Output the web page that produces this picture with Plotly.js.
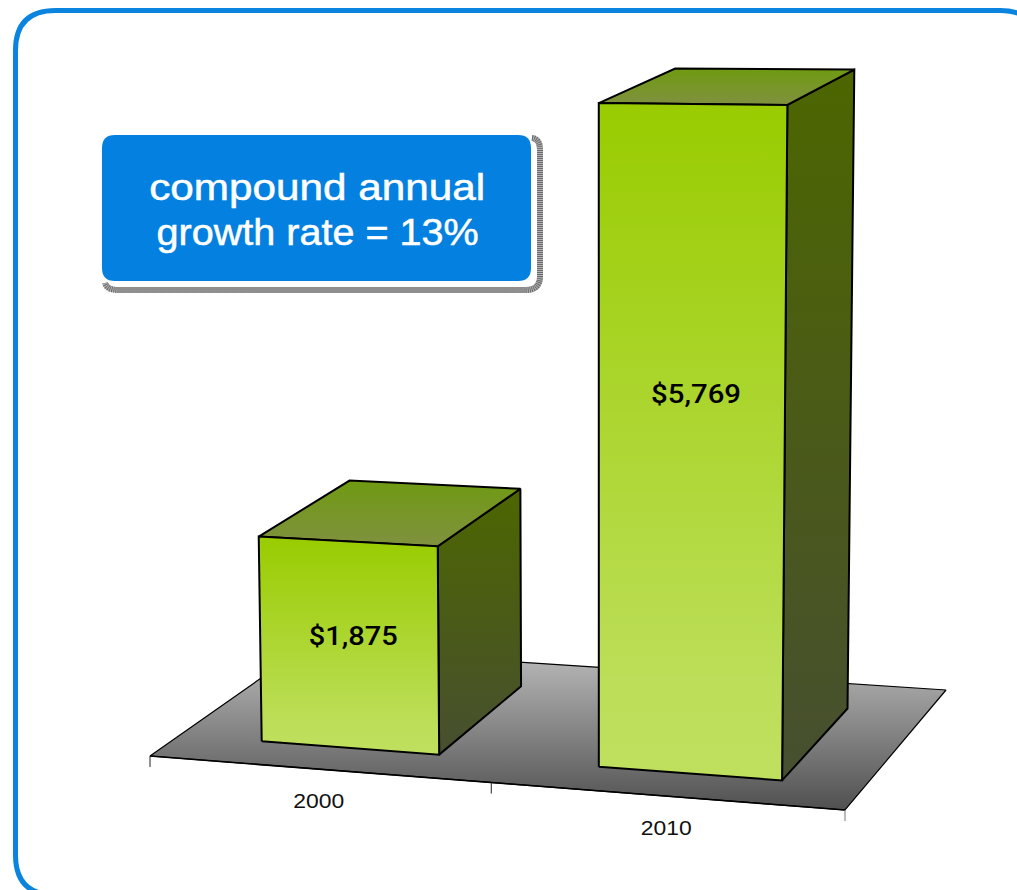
<!DOCTYPE html>
<html>
<head>
<meta charset="utf-8">
<script src="https://cdn.plot.ly/plotly-3.0.1.min.js"></script>
<style>html,body{margin:0;padding:0;background:#fff}#chart{width:1017px;height:890px}</style>
</head>
<body>
<div id="chart"></div>
<script>
// Revenue by year, drawn as two perspective columns standing on a floor plate.
const categories = ['2000', '2010'];
const values = [1875, 5769];
const calloutLines = ['compound annual', 'growth rate = 13%'];

const W = 1017, H = 890;

// Floor plate corners on the page, front-left then counter-clockwise.
const floorQuad = [[150, 756], [845, 810], [946, 690], [304, 648]];
// Point far below the page where the column edges converge.
const nadir = [600, 24000];
const heightScale = -4.69e-6;

// Column footprints on the floor, in floor units (0..1 across, 0..1 deep).
const columnLeft = [0.127, 0.628], columnRight = [0.395, 0.8865];
const columnFront = 0.18, columnBack = 0.786;
const midTick = 0.5085, labelFraction = 0.57, labelDrop = [8, 0];

// Plane-to-page homography for the unit square (Heckbert).
function squareToQuad(q) {
  const [x0, y0] = q[0], [x1, y1] = q[1], [x2, y2] = q[2], [x3, y3] = q[3];
  const dx1 = x1 - x2, dx2 = x3 - x2, sx = x0 - x1 + x2 - x3;
  const dy1 = y1 - y2, dy2 = y3 - y2, sy = y0 - y1 + y2 - y3;
  const den = dx1 * dy2 - dx2 * dy1;
  const g = (sx * dy2 - dx2 * sy) / den, h = (dx1 * sy - sx * dy1) / den;
  return [x1 - x0 + g * x1, x3 - x0 + h * x3, x0, y1 - y0 + g * y1, y3 - y0 + h * y3, y0, g, h, 1];
}
const M = squareToQuad(floorQuad);

function project(u, v, value) {
  const k = heightScale * (value || 0);
  const w = M[6] * u + M[7] * v + 1 + k;
  return [(M[0] * u + M[1] * v + M[2] + k * nadir[0]) / w,
          (M[3] * u + M[4] * v + M[5] + k * nadir[1]) / w];
}

function polygon(points, colors, outline) {
  const xs = points.map(p => p[0]), ys = points.map(p => p[1]);
  xs.push(xs[0]); ys.push(ys[0]);
  return {
    type: 'scatter', mode: 'lines', x: xs, y: ys, fill: 'toself', hoverinfo: 'skip', showlegend: false,
    fillgradient: { type: 'vertical', colorscale: colors },
    line: { color: '#000', width: outline }
  };
}
function segment(a, b, color, width) {
  return { type: 'scatter', mode: 'lines', x: [a[0], b[0]], y: [a[1], b[1]], hoverinfo: 'skip', showlegend: false,
    line: { color: color, width: width } };
}

// Gradient stops run from the lower edge of each face up to its upper edge.
const frontColors = [[0, '#bfe05f'], [0.15, '#bcde58'], [1, '#99cc00']];
const sideColors = [[0, '#474f30'], [1, '#4d6600']];
const topColors = [[0, '#80913f'], [1, '#6f9a12']];
const floorColors = [[0, '#505050'], [1, '#bcbcbc']];

const traces = [];
traces.push(polygon([[0, 0], [1, 0], [1, 1], [0, 1]].map(c => project(c[0], c[1], 0)), floorColors, 1.2));
traces.push(segment(project(0, 0, 0), project(1, 0, 0), '#000', 1.6));

// Tick marks hang straight down from the front edge of the floor.
[0, midTick, 1].forEach(u => {
  const p = project(u, 0, 0);
  traces.push(segment(p, [p[0], p[1] + 11], u === 1 ? '#777' : '#222', 1));
});

const labelPoints = [], tickPoints = [];
categories.forEach((cat, i) => {
  const l = columnLeft[i], r = columnRight[i], centre = (l + r) / 2;
  const v = values[i];
  traces.push(polygon([project(r, columnFront, 0), project(r, columnBack, 0), project(r, columnBack, v), project(r, columnFront, v)], sideColors, 2));
  traces.push(polygon([project(l, columnFront, v), project(r, columnFront, v), project(r, columnBack, v), project(l, columnBack, v)], topColors, 2));
  traces.push(polygon([project(l, columnFront, 0), project(r, columnFront, 0), project(r, columnFront, v), project(l, columnFront, v)], frontColors, 2));
  const mid = project(centre, columnFront, v * labelFraction);
  labelPoints.push([mid[0] + 5, mid[1] + labelDrop[i]]);
  const base = project((i + 0.5) / categories.length + 0.006, 0, 0);
  tickPoints.push([base[0], base[1] + 33.5]);
});

const valueTexts = values.map(v => '$' + v.toLocaleString('en-US'));

// Value printed on each column's front face.
traces.push({
  type: 'scatter', mode: 'text', hoverinfo: 'skip', showlegend: false,
  x: labelPoints.map(p => p[0]), y: labelPoints.map(p => p[1]),
  text: valueTexts, textposition: 'middle center',
  textfont: { family: 'Roboto, sans-serif', size: 26, color: '#000', weight: 500 }
});
// Year labels under the floor.
traces.push({
  type: 'scatter', mode: 'text', hoverinfo: 'skip', showlegend: false,
  x: tickPoints.map(p => p[0]), y: tickPoints.map(p => p[1]),
  text: categories, textposition: 'middle center',
  textfont: { family: '"Liberation Sans", Arial, sans-serif', size: 20.5, color: '#111' }
});

function roundedRect(x0, y0, x1, y1, r) {
  return `M${x0 + r},${y0} L${x1 - r},${y0} Q${x1},${y0} ${x1},${y0 + r} L${x1},${y1 - r} Q${x1},${y1} ${x1 - r},${y1} ` +
    `L${x0 + r},${y1} Q${x0},${y1} ${x0},${y1 - r} L${x0},${y0 + r} Q${x0},${y0} ${x0 + r},${y0} Z`;
}
const shadowPath = 'M532,138 Q540,139 540,150 L540,276 Q540,290 526,290 L118,290 Q107,290 105,283';

const layout = {
  width: W, height: H, margin: { l: 0, r: 0, t: 0, b: 0 }, paper_bgcolor: '#fff', plot_bgcolor: '#fff', showlegend: false,
  xaxis: { range: [0, W], visible: false, fixedrange: true },
  yaxis: { range: [H, 0], visible: false, fixedrange: true },
  shapes: [
    { type: 'path', xref: 'x', yref: 'y', path: roundedRect(15.5, 10.5, 1040, 895, 40), line: { color: '#0a84de', width: 5 }, layer: 'below' },
    { type: 'path', xref: 'x', yref: 'y', path: shadowPath, line: { color: '#b4b4b4', width: 6 } },
    { type: 'path', xref: 'x', yref: 'y', path: shadowPath, line: { color: '#6a6a6a', width: 6, dash: '1px,1px' } },
    { type: 'path', xref: 'x', yref: 'y', path: roundedRect(102, 135, 531, 281, 13), fillcolor: '#0481e0', line: { width: 0 } }
  ],
  annotations: calloutLines.map((t, i) => ({
    x: 317, y: 187.5 + i * 45, xref: 'x', yref: 'y', text: t, showarrow: false,
    xanchor: 'center', yanchor: 'middle',
    font: { family: '"Liberation Sans", Arial, sans-serif', size: 36, color: '#fff' }
  }))
};

// The typeface runs wider than its natural metrics, so each string is set to a fixed advance.
const textWidths = new Map([
  [calloutLines[0], 336], [calloutLines[1], 322],
  [valueTexts[0], 89], [valueTexts[1], 90],
  [categories[0], 51], [categories[1], 51]
]);
Plotly.newPlot('chart', traces, layout, { staticPlot: true }).then(gd => {
  gd.querySelectorAll('svg text').forEach(node => {
    const width = textWidths.get(node.textContent);
    if (width) {
      node.setAttribute('textLength', width);
      node.setAttribute('lengthAdjust', 'spacingAndGlyphs');
    }
    // The callout lettering carries a slightly heavier stroke than the regular face.
    if (calloutLines.includes(node.textContent)) {
      node.style.stroke = '#fff';
      node.style.strokeWidth = '0.5px';
    }
  });
});
</script>
</body>
</html>
